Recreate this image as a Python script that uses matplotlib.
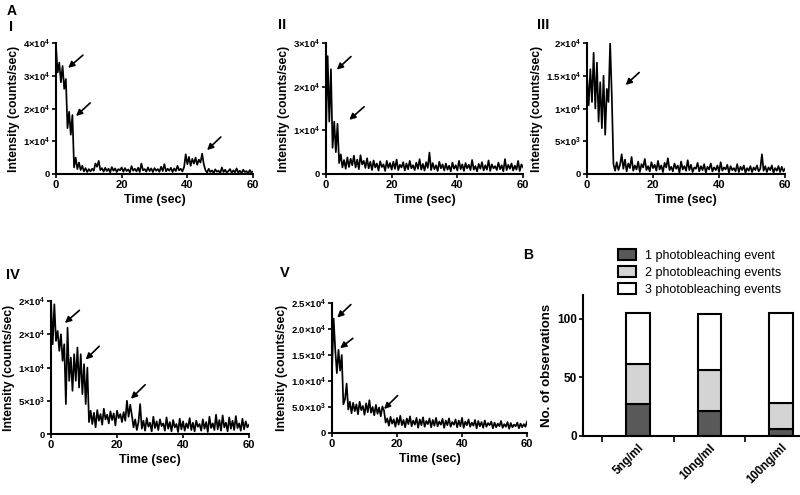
import numpy as np
import matplotlib
matplotlib.use("Agg")
import matplotlib.pyplot as plt

plt.rcParams['font.family'] = ['Liberation Sans', 'DejaVu Sans']
plt.rcParams['mathtext.fontset'] = 'custom'
plt.rcParams['mathtext.rm'] = 'Liberation Sans:bold'
plt.rcParams['mathtext.bf'] = 'Liberation Sans:bold'

# sampling step of the read-off traces (sec); intensities in 10^3 counts/sec
dt = 0.5

trace_I = [39, 31, 34, 28, 33, 26, 29, 14, 19, 12, 18, 2, 5, 1.5, 3.5, 1.2, 2.5, 0.8, 1.8, 0.6,
           1.5, 0.8, 1.6, 1.0, 3.2, 2.2, 4.0, 1.2, 1.8,
           0.7, 1.9, 0.9, 1.6, 0.5, 2.1, 1.0, 1.7, 0.6, 1.5, 1.1, 2.0, 0.7, 1.8, 0.9, 1.4, 0.5, 2.4, 1.0, 1.6,
           0.8, 1.9, 0.6, 3.2, 1.1, 1.5, 0.7, 2.0, 0.9, 1.7, 0.6, 1.8, 1.0, 1.5, 0.7, 2.2, 0.9, 3.0, 0.8, 1.6,
           1.0, 1.9, 0.6, 1.7, 0.9, 2.5, 1.1, 1.6, 0.8, 2.1,
           6.0, 3.0, 5.2, 2.5, 4.6, 3.2, 5.0, 2.8, 4.4, 3.5, 6.2, 3.0,
           1.2, 0.4, 1.6, 0.6, 1.1, 0.3, 1.4, 0.7, 1.0, 0.2, 2.0, 0.6, 1.3, 0.4, 0.9, 1.5, 0.3, 1.1, 0.5, 1.7,
           0.4, 1.0, 0.2, 1.3, 0.6, 0.9, 0.1, 1.2, 0.4, 0.8]

trace_II = [9, 27, 12, 24, 6, 12, 5, 11.5, 2.5, 4.5, 1.5,
            3.2, 1.2, 3.8, 1.6, 3.5, 2.0, 4.2, 1.5, 3.3, 1.1, 4.3, 2.2, 3.0, 1.4,
            3.6, 1.3, 2.8, 0.9, 3.1, 1.5, 2.4, 0.8, 2.9, 1.6, 2.2, 0.7, 3.0, 1.4, 2.5, 1.0, 2.8, 1.2, 3.3, 0.9,
            2.1, 1.5, 2.7, 0.8, 2.4, 1.1, 3.0, 1.3, 2.0, 0.9, 2.6, 1.2, 3.4, 1.0, 2.3, 0.8, 2.7, 1.4,
            4.9,
            0.9, 2.5, 1.1, 2.0, 0.7, 2.8, 1.3, 2.2, 0.8, 2.4, 1.0, 1.9, 0.6, 2.6, 1.2, 2.0, 0.8, 3.0, 1.1, 2.2,
            0.7, 2.5, 1.3, 2.1, 0.9, 3.2, 1.0, 1.8, 0.6, 2.3, 1.2, 2.7, 0.8, 2.0, 1.0, 3.1, 0.7, 2.2, 1.3, 1.8,
            0.9, 2.6, 1.1, 2.0, 0.6, 3.4, 0.9, 2.1, 1.2, 2.4, 0.8, 1.9, 1.0, 3.0, 0.7, 2.2, 1.5]

trace_III = [15, 10.5, 16, 11, 18.5, 10, 17, 8, 14, 7, 15, 6, 13, 11, 20, 12, 1.5, 0.5,
             1.8, 0.6, 1.4, 3.0,
             0.8, 2.2, 0.4, 1.6, 0.9, 2.6, 0.5, 1.3, 0.7, 1.9, 0.3, 1.5, 1.0, 2.3, 0.6, 1.2, 0.4, 1.8, 0.9, 1.4,
             0.5, 2.0, 0.7, 1.3, 0.3, 1.7, 1.0, 2.4, 0.6, 1.1, 0.4, 1.6, 0.8, 1.3, 0.2, 1.9, 0.7, 1.2, 0.5, 2.1,
             0.6, 1.4, 0.3, 1.0, 0.8, 1.7, 0.4, 1.2, 0.6, 1.5, 0.2, 1.1, 0.7, 1.6, 0.4, 1.0, 0.6, 1.3, 0.3, 1.8,
             0.5, 1.0, 0.7, 1.4, 0.2, 1.2, 0.6, 0.9, 0.4, 1.5, 0.3, 1.1, 0.6, 1.3, 0.2, 0.9, 0.5, 1.2, 0.3, 1.0,
             0.6, 1.3, 0.4, 0.8,
             3.0,
             0.5, 1.2, 0.3, 1.0, 0.6, 1.3, 0.2, 0.9, 0.5, 1.2, 0.3, 1.1, 0.4, 0.8]

trace_IV = [20, 13.5, 19.5, 14, 15.5, 12.5, 15, 11, 13.5, 4.5, 16, 8, 11.5, 6.5, 12, 8, 13, 7, 12, 6,
            10.5, 4.5, 10, 1.8, 3.5,
            1.5, 3.2, 1.0, 3.6, 2.0, 3.0, 1.4, 3.8, 2.2, 2.9, 1.6, 3.4, 2.1, 3.1, 1.3, 3.5, 2.4, 3.0, 1.8, 3.3, 2.0,
            5.0, 2.6, 4.4, 2.8,
            1.0, 2.2, 0.6, 1.8, 4.5,
            0.8, 2.0, 0.5, 2.4, 1.1, 1.7, 0.4, 2.6, 0.9, 1.9, 0.6, 2.2, 1.2, 1.6, 0.5, 2.5, 0.8, 1.8, 0.4, 2.1,
            1.0, 1.5, 0.3, 2.3, 0.7, 1.9, 0.5, 1.6, 0.9, 2.4, 0.6, 1.7, 0.4, 2.0, 1.1, 1.5, 0.5, 2.2, 0.8, 1.8,
            0.3, 2.6, 0.9, 1.6, 0.6, 2.9, 0.7, 2.1, 0.5, 2.8, 1.0, 1.7, 0.4, 2.5, 0.8, 2.0, 0.6, 2.7, 0.9, 1.6,
            0.5, 2.3, 0.7, 1.9, 1.0, 1.4]

trace_V = [12, 22, 16, 11.5, 16, 12, 15, 5.5, 6.5, 9.5, 4.5, 6,
           3.8, 5.8, 4.2, 5.5, 3.6, 6.0, 4.4, 5.2, 3.5, 5.7, 4.0, 6.3, 3.9, 5.0, 3.4, 5.4, 3.7, 4.9, 3.2, 5.1, 4.3,
           2.0,
           2.8, 1.4, 3.1, 1.8, 2.6, 1.2, 2.9, 1.6, 3.3, 1.5, 2.5, 1.1, 2.8, 1.7, 3.2, 1.3, 2.4, 1.6, 2.9, 1.0,
           2.6, 1.5, 3.0, 1.2, 2.3, 1.7, 2.8, 1.1, 2.5, 1.4, 2.9, 1.3, 2.2, 1.6, 2.7, 1.0, 2.4, 1.5, 2.8, 1.2,
           2.1, 1.6, 2.6, 1.1, 2.4, 1.3, 2.9, 1.0, 2.2, 1.5, 2.6, 1.2, 2.0, 1.4, 2.5, 0.9, 2.3, 1.3, 2.1, 1.0,
           2.4, 1.2, 1.9, 1.5, 2.2, 0.9, 2.0, 1.1, 1.8, 1.3, 2.3, 1.0, 1.7, 1.2, 2.1, 0.8, 1.9, 1.1, 1.6, 1.3,
           2.0, 0.9, 1.8, 1.1, 1.7, 1.2, 2.2]

# arrows: (tip_t, tip_y, tail_t, tail_y) in sec / 10^3 counts
arrows_I = [(3.7, 32.4, 8.2, 36.3), (6.1, 17.7, 10.4, 21.7), (46.0, 7.3, 50.2, 11.3)]
arrows_II = [(3.3, 23.9, 7.6, 26.9), (7.1, 12.4, 11.6, 15.4)]
arrows_III = [(11.7, 13.6, 15.8, 15.5)]
arrows_IV = [(4.2, 16.7, 8.6, 18.6), (10.5, 11.2, 14.6, 13.2), (24.2, 5.3, 28.5, 7.4)]
arrows_V = [(1.6, 22.2, 5.8, 24.7), (2.5, 16.3, 6.4, 18.2), (16.0, 4.6, 20.2, 7.2)]

# panel B
concentrations = ['5ng/ml', '10ng/ml', '100ng/ml']
one_event = [27, 21, 6]
two_events = [34, 35, 22]
three_events = [44, 48, 77]

fig = plt.figure(figsize=(8, 4.95), dpi=100)


def trace_panel(rect, vals, yticks, ylabels, arrows):
    ax = fig.add_axes(rect)
    t = np.arange(len(vals)) * dt
    ax.plot(t, np.array(vals) * 1e3, color='black', lw=1.25)
    ax.set_xlim(0, 60)
    ax.set_ylim(0, yticks[-1])
    ax.set_xticks([0, 20, 40, 60])
    ax.set_xticklabels(['0', '20', '40', '60'], fontweight='bold', fontsize=8)
    ax.set_yticks(yticks)
    ax.set_yticklabels(ylabels, fontweight='bold', fontsize=6.8)
    for s in ['top', 'right']:
        ax.spines[s].set_visible(False)
    for s in ['left', 'bottom']:
        ax.spines[s].set_linewidth(1.5)
    ax.tick_params(direction='out', length=3, width=1.2, pad=1.5)
    ax.set_xlabel('Time (sec)', fontweight='bold', fontsize=9, labelpad=3)
    ax.set_ylabel('Intensity (counts/sec)', fontweight='bold', fontsize=8.8, labelpad=2)
    for tx, ty, sx, sy in arrows:
        ax.annotate('', xy=(tx, ty * 1e3), xytext=(sx, sy * 1e3),
                    arrowprops=dict(arrowstyle='-|>', color='black', lw=1.2,
                                    mutation_scale=9, shrinkA=0, shrinkB=0),
                    annotation_clip=False)
    return ax


trace_panel([0.070, 0.6485, 0.2463, 0.2646], trace_I,
            [0, 1e4, 2e4, 3e4, 4e4],
            ['0', '1×10$^4$', '2×10$^4$', '3×10$^4$', '4×10$^4$'], arrows_I)
trace_panel([0.4075, 0.6485, 0.2463, 0.2646], trace_II,
            [0, 1e4, 2e4, 3e4],
            ['0', '1×10$^4$', '2×10$^4$', '3×10$^4$'], arrows_II)
trace_panel([0.7338, 0.6485, 0.2475, 0.2646], trace_III,
            [0, 5e3, 1e4, 1.5e4, 2e4],
            ['0', '5×10$^3$', '1×10$^4$', '1.5×10$^4$', '2×10$^4$'], arrows_III)
trace_panel([0.0638, 0.1232, 0.2475, 0.2687], trace_IV,
            [0, 5e3, 1e4, 1.5e4, 2e4],
            ['0', '5×10$^3$', '1×10$^4$', '2×10$^4$', '2×10$^4$'], arrows_IV)
trace_panel([0.415, 0.1253, 0.2438, 0.2626], trace_V,
            [0, 5e3, 1e4, 1.5e4, 2e4, 2.5e4],
            ['0', '5.0×10$^3$', '1.0×10$^4$', '1.5×10$^4$', '2.0×10$^4$', '2.5×10$^4$'], arrows_V)

# stacked bars
axb = fig.add_axes([0.7288, 0.1192, 0.2713, 0.2848])
x = np.arange(len(concentrations))
one = np.array(one_event)
two = np.array(two_events)
three = np.array(three_events)
w = 0.33
b1 = axb.bar(x, one, width=w, color='#595959', edgecolor='black', lw=1.5)
b2 = axb.bar(x, two, width=w, bottom=one, color='#d4d4d4', edgecolor='black', lw=1.5)
b3 = axb.bar(x, three, width=w, bottom=one + two, color='white', edgecolor='black', lw=1.5)
axb.set_xlim(-0.77, 2.27)
axb.set_ylim(0, 120)
axb.set_yticks([0, 50, 100])
axb.set_yticklabels(['0', '50', '100'], fontweight='bold', fontsize=8.5)
axb.set_xticks(x)
axb.set_xticklabels(concentrations, rotation=45, ha='right', rotation_mode='anchor',
                    fontweight='bold', fontsize=8.5)
axb.set_xticks([-0.5, 0.5, 1.5], minor=True)
axb.tick_params(axis='x', which='major', length=0, pad=4)
axb.tick_params(axis='x', which='minor', direction='out', length=4, width=1.2)
axb.tick_params(axis='y', direction='out', length=3, width=1.2, pad=1.5)
for s in ['top', 'right']:
    axb.spines[s].set_visible(False)
for s in ['left', 'bottom']:
    axb.spines[s].set_linewidth(1.5)
axb.set_ylabel('No. of observations', fontweight='bold', fontsize=9.5, labelpad=3)

fig.legend([b1, b2, b3],
           ['1 photobleaching event', '2 photobleaching events', '3 photobleaching events'],
           loc='upper left', bbox_to_anchor=(0.772, 0.496), frameon=False, fontsize=9,
           handlelength=1.5, handleheight=0.9, labelspacing=0.35, handletextpad=0.7,
           borderaxespad=0, borderpad=0)

# panel letters
fig.text(0.008, 0.978, 'A', fontweight='bold', fontsize=10, va='center')
fig.text(0.011, 0.945, 'I', fontweight='bold', fontsize=10.5, va='center')
fig.text(0.348, 0.949, 'II', fontweight='bold', fontsize=10.5, va='center')
fig.text(0.671, 0.949, 'III', fontweight='bold', fontsize=10.5, va='center')
fig.text(0.008, 0.444, 'IV', fontweight='bold', fontsize=10.5, va='center')
fig.text(0.350, 0.448, 'V', fontweight='bold', fontsize=10.5, va='center')
fig.text(0.654, 0.485, 'B', fontweight='bold', fontsize=10, va='center')

fig.savefig('out.png', dpi=100)
